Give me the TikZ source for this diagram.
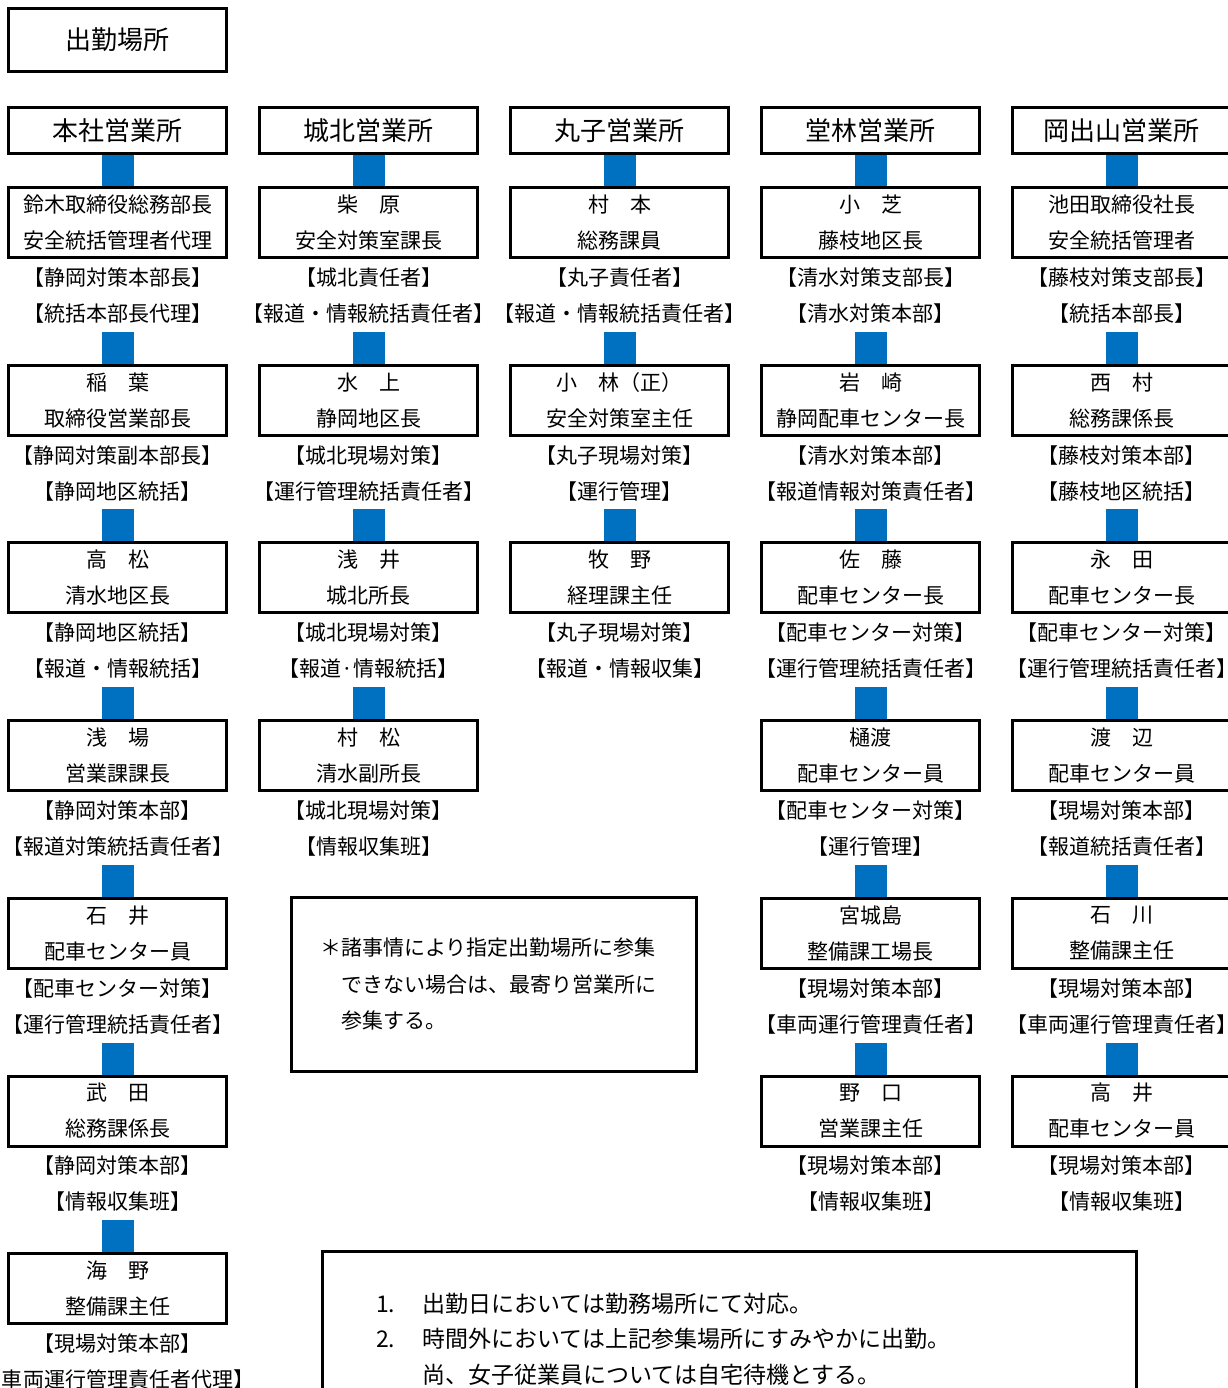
\documentclass[tikz,border=0pt]{standalone}
\usepackage{fontspec}
\setmainfont{Noto Sans CJK JP}
\usetikzlibrary{positioning}
\definecolor{linkblue}{HTML}{0070C0}
\tikzset{
  frame/.style={draw, line width=3pt, inner sep=0pt},
  place/.style={frame, minimum width=218pt, minimum height=46pt, font=\fontsize{26}{30}\selectfont},
  person/.style={frame, minimum width=218pt, minimum height=70pt, align=center, font=\fontsize{21}{36}\selectfont},
  duty/.style={inner sep=0pt, minimum height=72.3pt, align=center, font=\fontsize{21}{36}\selectfont},
  link/.style={linkblue, line width=32pt},
}
% one member: box with name and post, then the two duties below it
\newcommand{\staff}[4]{%
  \node[person, #2] (#1) {#3};
  \node[duty, below=0pt of #1] (#1-tag) {#4};
}
\begin{document}
\begin{tikzpicture}[x=1pt, y=-1pt]
\useasboundingbox (0,0) rectangle (1227,1388);

\node[frame, minimum width=218pt, minimum height=63pt, font=\fontsize{26}{30}\selectfont] (title) at (117.5,40) {出勤場所};

% offices
\node[place] (hon) at (117.5,130.5) {本社営業所};
\node[place] (jo) at (368.5,130.5) {城北営業所};
\node[place] (ma) at (619.5,130.5) {丸子営業所};
\node[place] (do) at (870.5,130.5) {堂林営業所};
\node[place] (oka) at (1121.5,130.5) {岡出山営業所};

% 本社
\staff{hon-1}{at={(117.5,222.5)}}{鈴木取締役総務部長\\安全統括管理者代理}{【静岡対策本部長】\\【統括本部長代理】}
\staff{hon-2}{below=32pt of hon-1-tag}{稲　葉\\取締役営業部長}{【静岡対策副本部長】\\【静岡地区統括】}
\staff{hon-3}{below=32pt of hon-2-tag}{高　松\\清水地区長}{【静岡地区統括】\\【報道・情報統括】}
\staff{hon-4}{below=32pt of hon-3-tag}{浅　場\\営業課課長}{【静岡対策本部】\\【報道対策統括責任者】}
\staff{hon-5}{below=32pt of hon-4-tag}{石　井\\配車センター員}{【配車センター対策】\\【運行管理統括責任者】}
\staff{hon-6}{below=32pt of hon-5-tag}{武　田\\総務課係長}{【静岡対策本部】\\【情報収集班】}
\staff{hon-7}{below=32pt of hon-6-tag}{海　野\\整備課主任}{【現場対策本部】\\【車両運行管理責任者代理】}

% 城北
\staff{jo-1}{at={(368.5,222.5)}}{柴　原\\安全対策室課長}{【城北責任者】\\【報道・情報統括責任者】}
\staff{jo-2}{below=32pt of jo-1-tag}{水　上\\静岡地区長}{【城北現場対策】\\【運行管理統括責任者】}
\staff{jo-3}{below=32pt of jo-2-tag}{浅　井\\城北所長}{【城北現場対策】\\【報道·情報統括】}
\staff{jo-4}{below=32pt of jo-3-tag}{村　松\\清水副所長}{【城北現場対策】\\【情報収集班】}

% 丸子
\staff{ma-1}{at={(619.5,222.5)}}{村　本\\総務課員}{【丸子責任者】\\【報道・情報統括責任者】}
\staff{ma-2}{below=32pt of ma-1-tag}{小　林（正）\\安全対策室主任}{【丸子現場対策】\\【運行管理】}
\staff{ma-3}{below=32pt of ma-2-tag}{牧　野\\経理課主任}{【丸子現場対策】\\【報道・情報収集】}

% 堂林
\staff{do-1}{at={(870.5,222.5)}}{小　芝\\藤枝地区長}{【清水対策支部長】\\【清水対策本部】}
\staff{do-2}{below=32pt of do-1-tag}{岩　崎\\静岡配車センター長}{【清水対策本部】\\【報道情報対策責任者】}
\staff{do-3}{below=32pt of do-2-tag}{佐　藤\\配車センター長}{【配車センター対策】\\【運行管理統括責任者】}
\staff{do-4}{below=32pt of do-3-tag}{樋渡\\配車センター員}{【配車センター対策】\\【運行管理】}
\staff{do-5}{below=32pt of do-4-tag}{宮城島\\整備課工場長}{【現場対策本部】\\【車両運行管理責任者】}
\staff{do-6}{below=32pt of do-5-tag}{野　口\\営業課主任}{【現場対策本部】\\【情報収集班】}

% 岡出山
\staff{oka-1}{at={(1121.5,222.5)}}{池田取締役社長\\安全統括管理者}{【藤枝対策支部長】\\【統括本部長】}
\staff{oka-2}{below=32pt of oka-1-tag}{西　村\\総務課係長}{【藤枝対策本部】\\【藤枝地区統括】}
\staff{oka-3}{below=32pt of oka-2-tag}{永　田\\配車センター長}{【配車センター対策】\\【運行管理統括責任者】}
\staff{oka-4}{below=32pt of oka-3-tag}{渡　辺\\配車センター員}{【現場対策本部】\\【報道統括責任者】}
\staff{oka-5}{below=32pt of oka-4-tag}{石　川\\整備課主任}{【現場対策本部】\\【車両運行管理責任者】}
\staff{oka-6}{below=32pt of oka-5-tag}{高　井\\配車センター員}{【現場対策本部】\\【情報収集班】}

% blue links
\foreach \col in {hon,jo,ma,do,oka}
  \draw[link] (\col) -- (\col-1);
\foreach \i [count=\j from 2] in {1,...,6}
  \draw[link] (hon-\i-tag) -- (hon-\j);
\foreach \i [count=\j from 2] in {1,...,3}
  \draw[link] (jo-\i-tag) -- (jo-\j);
\foreach \i [count=\j from 2] in {1,2}
  \draw[link] (ma-\i-tag) -- (ma-\j);
\foreach \i [count=\j from 2] in {1,...,5}
  \draw[link] (do-\i-tag) -- (do-\j);
\foreach \i [count=\j from 2] in {1,...,5}
  \draw[link] (oka-\i-tag) -- (oka-\j);

% notes
\node[frame, minimum width=405pt, minimum height=174pt, text width=348pt, inner xsep=28.5pt, align=left,
  font=\fontsize{21}{36.5}\selectfont] (note) at (494,984.5)
  {＊諸事情により指定出勤場所に参集\\　できない場合は、最寄り営業所に\\　参集する。};

\node[frame, anchor=north west, minimum width=814pt, minimum height=200pt] (rule) at (321,1250) {};
\node[anchor=west, inner sep=0pt, font=\fontsize{23}{35.5}\selectfont] (ruletext) at (376,1340.5)
  {\begin{tabular}{@{}p{46pt}@{}l@{}}
  1. & 出勤日においては勤務場所にて対応。\\
  2. & 時間外においては上記参集場所にすみやかに出勤。\\
     & 尚、女子従業員については自宅待機とする。
  \end{tabular}};
\end{tikzpicture}
\end{document}
